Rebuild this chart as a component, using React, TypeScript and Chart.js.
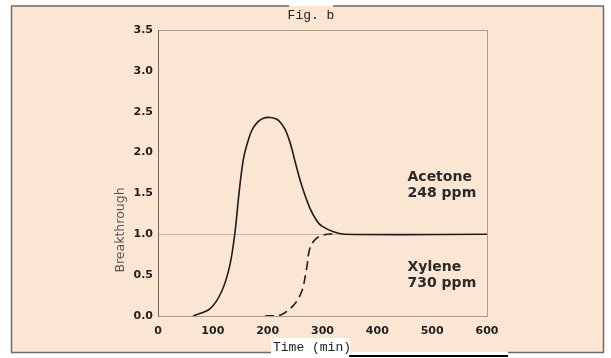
import React, { useEffect, useRef } from "react";
import { Chart, registerables } from "chart.js";

Chart.register(...registerables);

// ---- data ----
const acetoneTime = [64, 95, 116, 131, 140.5, 148, 156, 165, 171, 180, 192, 204, 216, 223, 232, 238, 244, 250, 262, 277, 290, 299, 320, 340, 600];
const acetoneValue = [0, 0.09, 0.3, 0.62, 1.03, 1.52, 1.93, 2.16, 2.27, 2.36, 2.42, 2.43, 2.41, 2.37, 2.28, 2.18, 2.05, 1.89, 1.6, 1.32, 1.16, 1.1, 1.03, 1.0, 1.0];
const xyleneTime = [195, 223, 247, 262, 271, 277, 289, 308, 326];
const xyleneValue = [0, 0.01, 0.13, 0.3, 0.58, 0.83, 0.95, 1.0, 1.0];

const xMin = 0;
const xMax = 600;
const xStep = 100;
const yMin = 0;
const yMax = 3.5;
const yStep = 0.5;

const figTitle = "Fig. b";
const xTitle = "Time (min)";
const yTitle = "Breakthrough";
const acetoneLabel = ["Acetone", "248 ppm"];
const xyleneLabel = ["Xylene", "730 ppm"];
// label anchors in data units (time, breakthrough)
const acetoneLabelAt = [455, 1.7];
const xyleneLabelAt = [455, 0.6];

const BEIGE = "#fbe6d4";
const INK = "#1e1e1e";

const decorPlugin = {
  id: "decor",
  beforeDraw(chart: any) {
    const ctx = chart.ctx;
    const W = chart.width;
    const H = chart.height;
    ctx.save();
    ctx.fillStyle = "#ffffff";
    ctx.fillRect(0, 0, W, H);
    ctx.fillStyle = BEIGE;
    ctx.fillRect(11, 6, 593, 346);
    ctx.strokeStyle = "#6e6a66";
    ctx.lineWidth = 1.5;
    ctx.beginPath();
    ctx.moveTo(11.5, 6);
    ctx.lineTo(11.5, 352.5);
    ctx.moveTo(603.5, 6);
    ctx.lineTo(603.5, 352.5);
    ctx.moveTo(11, 6);
    ctx.lineTo(289, 6);
    ctx.moveTo(333, 6);
    ctx.lineTo(604, 6);
    ctx.moveTo(11, 352.5);
    ctx.lineTo(271, 352.5);
    ctx.moveTo(508, 352.5);
    ctx.lineTo(604, 352.5);
    ctx.stroke();
    ctx.fillStyle = "#ffffff";
    ctx.fillRect(271, 338, 79, 20);
    ctx.fillStyle = "#000000";
    ctx.fillRect(349, 355, 159, 2);
    ctx.restore();
  },
  beforeDatasetsDraw(chart: any) {
    const { ctx, chartArea: a } = chart;
    ctx.save();
    ctx.strokeStyle = "rgba(150,130,115,0.75)";
    ctx.lineWidth = 1;
    ctx.strokeRect(a.left + 0.5, a.top + 0.5, a.right - a.left, a.bottom - a.top);
    ctx.strokeStyle = "rgba(110,95,85,0.9)";
    ctx.beginPath();
    ctx.moveTo(a.left + 0.5, a.top);
    ctx.lineTo(a.left + 0.5, a.bottom + 1);
    ctx.stroke();
    ctx.restore();
  },
  afterDraw(chart: any) {
    const ctx = chart.ctx;
    const xs = chart.scales.x;
    const ys = chart.scales.y;
    ctx.save();
    ctx.fillStyle = "#222";
    ctx.font = "13px 'Liberation Mono'";
    ctx.textAlign = "center";
    ctx.textBaseline = "alphabetic";
    ctx.fillText(figTitle, 311, 19);
    ctx.textAlign = "left";
    ctx.fillText(xTitle, 273, 351);

    ctx.save();
    ctx.translate(121, 230);
    ctx.rotate(-Math.PI / 2);
    ctx.font = "12.5px 'DejaVu Sans'";
    ctx.fillStyle = "#555";
    ctx.textAlign = "center";
    ctx.textBaseline = "middle";
    ctx.fillText(yTitle, 0, 0);
    ctx.restore();

    ctx.font = "bold 14px 'DejaVu Sans'";
    ctx.fillStyle = "#2a2a2a";
    ctx.textAlign = "left";
    ctx.textBaseline = "middle";
    const drawLabel = (lines: string[], at: number[]) => {
      const x = xs.getPixelForValue(at[0]);
      const y = ys.getPixelForValue(at[1]);
      lines.forEach((t, i) => ctx.fillText(t, x, y + i * 16));
    };
    drawLabel(acetoneLabel, acetoneLabelAt);
    drawLabel(xyleneLabel, xyleneLabelAt);
    ctx.restore();
  },
};

export default function App() {
  const ref = useRef<HTMLCanvasElement>(null);
  useEffect(() => {
    document.body.style.margin = "0";
    const canvas = ref.current!;
    const chart = new Chart(canvas, {
      type: "line",
      data: {
        datasets: [
          {
            label: "Acetone 248 ppm",
            data: acetoneTime.map((t, i) => ({ x: t, y: acetoneValue[i] })),
            borderColor: INK,
            borderWidth: 1.6,
            pointRadius: 0,
            fill: false,
            tension: 0.35,
          },
          {
            label: "Xylene 730 ppm",
            data: xyleneTime.map((t, i) => ({ x: t, y: xyleneValue[i] })),
            borderColor: INK,
            borderWidth: 1.6,
            borderDash: [9, 5],
            pointRadius: 0,
            fill: false,
            tension: 0.35,
          },
        ],
      },
      options: {
        animation: false,
        responsive: false,
        devicePixelRatio: 1,
        layout: { padding: { left: 0, top: 30, right: 124, bottom: 0 } },
        plugins: {
          legend: { display: false },
          title: { display: false },
          tooltip: { enabled: false },
        },
        scales: {
          x: {
            type: "linear",
            min: xMin,
            max: xMax,
            afterFit: (s: any) => {
              s.height = 42;
            },
            grid: { display: false, drawTicks: false },
            border: { display: false },
            ticks: {
              stepSize: xStep,
              padding: 9,
              color: INK,
              font: { family: "'DejaVu Sans'", size: 11, weight: "bold" },
              maxRotation: 0,
            },
          },
          y: {
            type: "linear",
            min: yMin,
            max: yMax,
            afterFit: (s: any) => {
              s.width = 158;
            },
            grid: {
              drawTicks: false,
              color: (c: any) => (c.tick && c.tick.value === 1 ? "rgba(150,130,115,0.5)" : "rgba(0,0,0,0)"),
            },
            border: { display: false },
            ticks: {
              stepSize: yStep,
              padding: 5,
              color: INK,
              font: { family: "'DejaVu Sans'", size: 11, weight: "bold" },
              callback: (v: any) => Number(v).toFixed(1),
            },
          },
        },
      },
      plugins: [decorPlugin],
    } as any);
    return () => chart.destroy();
  }, []);
  return (
    <div style={{ width: 611, height: 358, position: "relative" }}>
      <canvas ref={ref} width={611} height={358} style={{ display: "block", width: 611, height: 358 }} />
    </div>
  );
}
